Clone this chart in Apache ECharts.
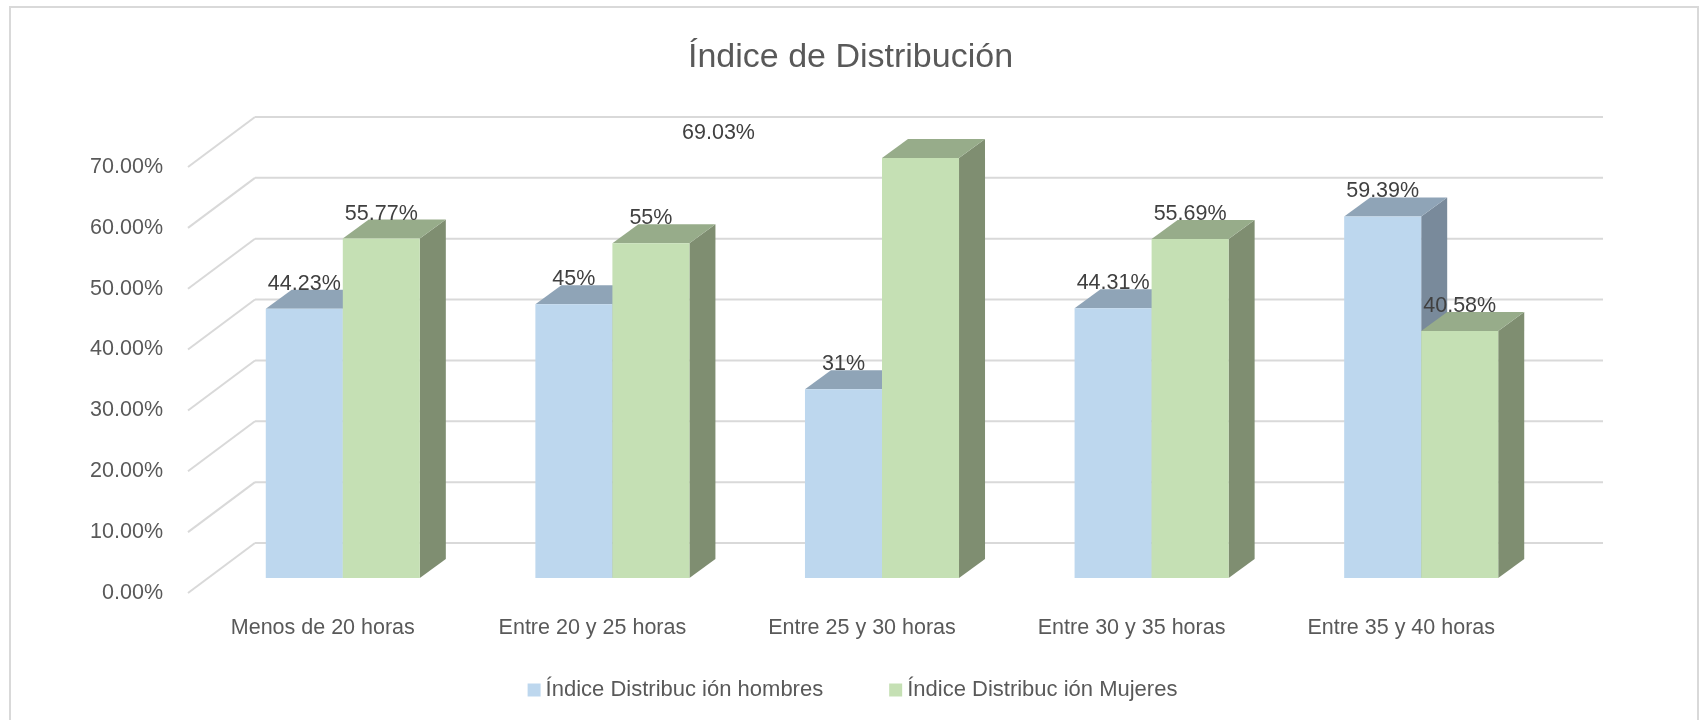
<!DOCTYPE html>
<html>
<head>
<meta charset="utf-8">
<script src="https://cdn.jsdelivr.net/npm/echarts@6/dist/echarts.min.js"></script>
<style>
  html, body { margin: 0; padding: 0; background: #ffffff; }
  #chart { width: 1705px; height: 720px; }
</style>
</head>
<body>
<div id="chart"></div>
<script>
// ---- data ----
const categories = ['Menos de 20 horas', 'Entre 20 y 25 horas', 'Entre 25 y 30 horas', 'Entre 30 y 35 horas', 'Entre 35 y 40 horas'];
const hombres = [44.23, 45, 31, 44.31, 59.39];
const mujeres = [55.77, 55, 69.03, 55.69, 40.58];
const hombresLabels = ['44.23%', '45%', '31%', '44.31%', '59.39%'];
const mujeresLabels = ['55.77%', '55%', '69.03%', '55.69%', '40.58%'];
const yTicks = [0, 10, 20, 30, 40, 50, 60, 70];
const yTickLabels = ['0.00%', '10.00%', '20.00%', '30.00%', '40.00%', '50.00%', '60.00%', '70.00%'];
const seriesNames = ['Índice Distribuc ión hombres', 'Índice Distribuc ión Mujeres'];
const chartTitle = 'Índice de Distribución';

// ---- style / geometry ----
const FONT = 'Liberation Sans';
const WALL_DX = 67, WALL_DY = -50;     // back wall relative to front plane
const BAR_DX = 20, BAR_DY = -15;       // bar front faces relative to front plane
const DEPTH_DX = 26, DEPTH_DY = -19;   // bar depth
const BAR_FRAC = 0.2857;               // bar width as share of category band
const COLORS = [
  { front: '#BDD7EE', top: '#8FA4B7', side: '#798A9B' },
  { front: '#C5E0B4', top: '#97AC8A', side: '#7F8E71' }
];
// manual label shift (the 69.03% label was moved in the original)
const LABEL_SHIFT = { '1-2': [-202, 0] };

function barRenderer(sIdx, labels) {
  return function (params, api) {
    const idx = api.value(0);
    const v = api.value(1);
    const base = api.coord([idx, 0]);
    const top = api.coord([idx, v]);
    const band = api.size([1, 0])[0];
    const bw = band * BAR_FRAC;
    const x0 = base[0] + BAR_DX + (sIdx === 0 ? -bw : 0);
    const x1 = x0 + bw;
    const yb = base[1] + BAR_DY;
    const yt = top[1] + BAR_DY;
    const c = COLORS[sIdx];
    const shift = LABEL_SHIFT[sIdx + '-' + idx] || [0, 0];
    return {
      type: 'group',
      children: [
        { type: 'polygon', shape: { points: [[x1, yt], [x1 + DEPTH_DX, yt + DEPTH_DY], [x1 + DEPTH_DX, yb + DEPTH_DY], [x1, yb]] }, style: { fill: c.side } },
        { type: 'polygon', shape: { points: [[x0, yt], [x1, yt], [x1 + DEPTH_DX, yt + DEPTH_DY], [x0 + DEPTH_DX, yt + DEPTH_DY]] }, style: { fill: c.top } },
        { type: 'rect', shape: { x: x0, y: yt, width: bw, height: yb - yt }, style: { fill: c.front } },
        { type: 'text', z2: 100, x: (x0 + x1) / 2 + shift[0], y: yt + DEPTH_DY + 5 + shift[1],
          style: { text: labels[idx], fill: '#404040', font: '21.5px "' + FONT + '"', align: 'center', verticalAlign: 'bottom' } }
      ]
    };
  };
}

const chart = echarts.init(document.getElementById('chart'), null, { renderer: 'canvas' });
chart.setOption({
  animation: false,
  backgroundColor: '#ffffff',
  title: {
    text: chartTitle,
    left: 683,
    top: 36,
    textStyle: { fontFamily: FONT, fontSize: 34, fontWeight: 'normal', color: '#595959' }
  },
  legend: {
    data: seriesNames,
    left: 'center',
    top: 674,
    icon: 'rect',
    itemWidth: 13,
    itemHeight: 13,
    itemGap: 66,
    textStyle: { fontFamily: FONT, fontSize: 22, color: '#595959', padding: [0, 0, 0, 0] }
  },
  grid: { left: 188, top: 167, width: 1348, height: 426, containLabel: false },
  xAxis: {
    type: 'category',
    data: categories,
    axisLine: { show: false },
    axisTick: { show: false },
    splitLine: { show: false },
    axisLabel: { margin: 24, fontFamily: FONT, fontSize: 21.5, color: '#595959' }
  },
  yAxis: {
    type: 'value',
    min: 0,
    max: 70,
    interval: 10,
    axisLine: { show: false },
    axisTick: { show: false },
    splitLine: { show: false },
    axisLabel: {
      margin: 25, fontFamily: FONT, fontSize: 21.5, color: '#595959',
      formatter: function (v) { return yTickLabels[yTicks.indexOf(v)]; }
    }
  },
  graphic: [{
    type: 'rect', silent: true, z: -10,
    shape: { x: 10, y: 7, width: 1688, height: 800 },
    style: { fill: 'none', stroke: '#D9D9D9', lineWidth: 2 }
  }],
  series: [
    {
      type: 'custom', name: 'walls', silent: true, z: 1,
      data: yTicks.map(function (t) { return [0, t]; }),
      renderItem: function (params, api) {
        const cs = params.coordSys;
        const py = api.coord([0, api.value(1)])[1];
        return {
          type: 'group',
          children: [
            { type: 'line', shape: { x1: cs.x, y1: py, x2: cs.x + WALL_DX, y2: py + WALL_DY }, style: { stroke: '#D9D9D9', lineWidth: 2 } },
            { type: 'line', shape: { x1: cs.x + WALL_DX, y1: py + WALL_DY, x2: cs.x + cs.width + WALL_DX, y2: py + WALL_DY }, style: { stroke: '#D9D9D9', lineWidth: 2 } }
          ]
        };
      }
    },
    {
      type: 'custom', name: seriesNames[0], z: 2,
      itemStyle: { color: COLORS[0].front },
      data: hombres.map(function (v, i) { return [i, v]; }),
      renderItem: barRenderer(0, hombresLabels)
    },
    {
      type: 'custom', name: seriesNames[1], z: 3,
      itemStyle: { color: COLORS[1].front },
      data: mujeres.map(function (v, i) { return [i, v]; }),
      renderItem: barRenderer(1, mujeresLabels)
    }
  ]
});
</script>
</body>
</html>
